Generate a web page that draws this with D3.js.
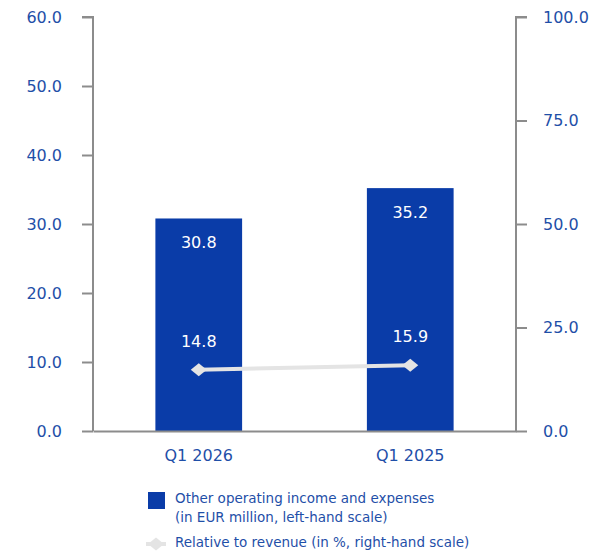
<!DOCTYPE html>
<html>
<head>
<meta charset="utf-8">
<script src="https://cdn.jsdelivr.net/npm/d3@7"></script>
<style>
  body { margin: 0; background: #fff; }
  text { font-family: "DejaVu Sans", sans-serif; }
</style>
</head>
<body>
<div id="chart"></div>
<script>
// DATA
const categories = ["Q1 2026", "Q1 2025"];
const incomeValues = [30.8, 35.2];     // EUR million, left scale
const revenueShare = [14.8, 15.9];     // %, right scale
const leftTicks = [0, 10, 20, 30, 40, 50, 60];
const rightTicks = [0, 25, 50, 75, 100];
const legendLabels = ["Other operating income and expenses", "(in EUR million, left-hand scale)", "Relative to revenue (in %, right-hand scale)"];

const W = 595, H = 551;
const blue = "#0a3ca8", textBlue = "#1f4fa8", axisGrey = "#8c8c8c", lineGrey = "#e4e4e4";
const margin = { top: 17, right: 79, bottom: 120, left: 93 };
const font = "DejaVu Sans, sans-serif";

const svg = d3.select("#chart").append("svg")
  .attr("width", W).attr("height", H);

// SCALES
const x = d3.scaleBand(categories, [margin.left, W - margin.right]).paddingInner(0.59).paddingOuter(0.295);
const yL = d3.scaleLinear([0, 60], [431, margin.top]);
const yR = d3.scaleLinear([0, 100], [431, margin.top]);

// AXES
const axL = svg.append("g")
  .attr("transform", `translate(${margin.left},0)`)
  .call(d3.axisLeft(yL).tickValues(leftTicks).tickFormat(d3.format(".1f")).tickSize(11).tickPadding(20));
const axR = svg.append("g")
  .attr("transform", `translate(${W - margin.right},0)`)
  .call(d3.axisRight(yR).tickValues(rightTicks).tickFormat(d3.format(".1f")).tickSize(11).tickPadding(16));
[axL, axR].forEach(a => {
  a.select(".domain").attr("stroke", axisGrey).attr("stroke-width", 2).attr("d", a === axL ? `M-11,${margin.top}H0V431` : `M11,${margin.top}H0V431`);
  a.selectAll(".tick line").attr("stroke", axisGrey).attr("stroke-width", 2);
  a.selectAll(".tick text").attr("fill", textBlue).attr("font-size", 16).attr("font-family", font);
});

// BARS
svg.selectAll("rect.bar")
  .data(incomeValues)
  .enter()
  .append("rect")
  .attr("class", "bar")
  .attr("x", (d, i) => x(categories[i]))
  .attr("width", x.bandwidth())
  .attr("y", d => yL(d))
  .attr("height", d => yL(0) - yL(d))
  .attr("fill", blue);

// bottom axis line
const xAx = svg.append("g")
  .attr("transform", `translate(0,431)`)
  .call(d3.axisBottom(x).tickSize(0).tickPadding(19));
xAx.select(".domain").attr("stroke", axisGrey).attr("stroke-width", 2);
xAx.selectAll(".tick text").attr("fill", textBlue).attr("font-size", 16).attr("font-family", font);

// bar value labels
svg.selectAll("text.barval")
  .data(incomeValues)
  .enter()
  .append("text")
  .attr("x", (d, i) => x(categories[i]) + x.bandwidth() / 2)
  .attr("y", d => yL(d) + 30)
  .attr("text-anchor", "middle")
  .attr("fill", "#fff")
  .attr("font-size", 16)
  .text(d => d.toFixed(1));

// LINE
const cx = (d, i) => x(categories[i]) + x.bandwidth() / 2;
const line = d3.line().x((d, i) => cx(d, i)).y(d => yR(d));
svg.append("path")
  .datum(revenueShare)
  .attr("d", line)
  .attr("fill", "none")
  .attr("stroke", lineGrey)
  .attr("stroke-width", 4);

const diamond = "M-8,0L0,-6.5L8,0L0,6.5Z";
svg.selectAll("path.pt")
  .data(revenueShare)
  .enter()
  .append("path")
  .attr("d", diamond)
  .attr("transform", (d, i) => `translate(${cx(d, i)},${yR(d)})`)
  .attr("fill", lineGrey);

svg.selectAll("text.lineval")
  .data(revenueShare)
  .enter()
  .append("text")
  .attr("x", (d, i) => cx(d, i))
  .attr("y", d => yR(d) - 23)
  .attr("text-anchor", "middle")
  .attr("fill", "#fff")
  .attr("font-size", 16)
  .text(d => d.toFixed(1));

// LEGEND
const lg = svg.append("g").attr("font-size", 13.5).attr("fill", textBlue);
lg.append("rect").attr("x", 148).attr("y", 492).attr("width", 17).attr("height", 17).attr("fill", blue);
lg.append("text").attr("x", 175).attr("y", 503).text(legendLabels[0]);
lg.append("text").attr("x", 175).attr("y", 522).text(legendLabels[1]);
lg.append("line").attr("x1", 146).attr("x2", 166).attr("y1", 544).attr("y2", 544)
  .attr("stroke", lineGrey).attr("stroke-width", 4);
lg.append("path").attr("d", diamond).attr("transform", "translate(156,544)").attr("fill", lineGrey);
lg.append("text").attr("x", 175).attr("y", 547).text(legendLabels[2]);
</script>
</body>
</html>
